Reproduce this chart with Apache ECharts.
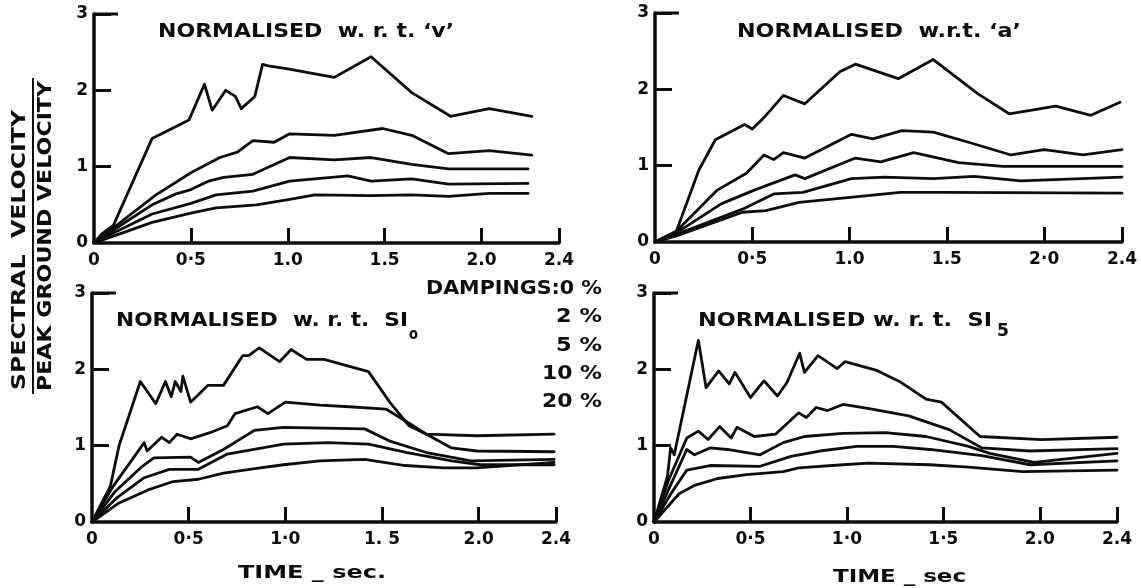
<!DOCTYPE html>
<html>
<head>
<meta charset="utf-8">
<script src="https://cdn.jsdelivr.net/npm/echarts@6/dist/echarts.min.js"></script>
<style>
  html, body { margin: 0; padding: 0; background: #fff; }
  #chart { width: 1141px; height: 588px; }
</style>
</head>
<body>
<div id="chart"></div>
<script>
// Damping ratios (percent) of the five curves in every panel
const dampings = ['0', '2', '5', '10', '20'];

// Axis ticks
const xTickValues = [0, 0.5, 1, 1.5, 2, 2.4];
const yTickValues = [0, 1, 2, 3];
const xTickLabelsV   = ['0', '0·5', '1.0', '1.5', '2.0', '2.4'];
const xTickLabelsA   = ['0', '0·5', '1.0', '1.5', '2·0', '2.4'];
const xTickLabelsSI0 = ['0', '0·5', '1·0', '1. 5', '2.0', '2.4'];
const xTickLabelsSI5 = ['0', '0·5', '1·0', '1·5', '2.0', '2.4'];
const yTickLabels = ['0', '1', '2', '3'];

// Normalised w.r.t. peak ground velocity 'v'  — [period (s), SV / PGV]
const v0  = [[0,0],[0.04,0.12],[0.10,0.23],[0.30,1.37],[0.49,1.61],[0.57,2.08],[0.61,1.74],[0.68,2.00],[0.73,1.92],[0.76,1.76],[0.83,1.92],[0.87,2.34],[0.90,2.32],[1.00,2.28],[1.24,2.17],[1.43,2.44],[1.64,1.97],[1.84,1.66],[2.04,1.76],[2.26,1.66]];
const v2  = [[0,0],[0.10,0.20],[0.32,0.63],[0.50,0.92],[0.65,1.12],[0.74,1.19],[0.82,1.34],[0.93,1.32],[1.01,1.43],[1.24,1.41],[1.49,1.50],[1.64,1.41],[1.83,1.17],[2.04,1.21],[2.26,1.15]];
const v5  = [[0,0],[0.10,0.17],[0.30,0.50],[0.42,0.64],[0.50,0.70],[0.59,0.81],[0.67,0.86],[0.82,0.90],[1.01,1.12],[1.24,1.09],[1.43,1.12],[1.64,1.03],[1.83,0.97],[2.24,0.97]];
const v10 = [[0,0],[0.10,0.13],[0.30,0.38],[0.50,0.52],[0.63,0.63],[0.82,0.68],[1.01,0.81],[1.31,0.88],[1.43,0.81],[1.64,0.84],[1.83,0.77],[2.24,0.78]];
const v20 = [[0,0],[0.10,0.09],[0.30,0.27],[0.50,0.39],[0.63,0.46],[0.84,0.50],[1.01,0.57],[1.14,0.63],[1.43,0.62],[1.64,0.63],[1.83,0.61],[2.04,0.65],[2.24,0.65]];

// Normalised w.r.t. peak ground acceleration 'a'
const a0  = [[0,0],[0.11,0.14],[0.225,0.94],[0.31,1.34],[0.46,1.54],[0.50,1.48],[0.56,1.63],[0.66,1.92],[0.77,1.81],[0.95,2.23],[1.03,2.33],[1.25,2.14],[1.43,2.39],[1.66,1.94],[1.82,1.68],[2.06,1.78],[2.24,1.66],[2.39,1.83]];
const a2  = [[0,0],[0.11,0.14],[0.32,0.68],[0.47,0.90],[0.56,1.14],[0.61,1.08],[0.66,1.17],[0.77,1.10],[1.01,1.41],[1.12,1.35],[1.27,1.46],[1.43,1.44],[1.62,1.30],[1.83,1.14],[2.00,1.21],[2.20,1.14],[2.40,1.21]];
const a5  = [[0,0],[0.11,0.12],[0.34,0.50],[0.51,0.68],[0.72,0.88],[0.77,0.83],[1.03,1.10],[1.16,1.05],[1.33,1.17],[1.56,1.04],[1.79,0.99],[2.40,0.99]];
const a10 = [[0,0],[0.11,0.10],[0.45,0.43],[0.61,0.63],[0.76,0.65],[1.01,0.83],[1.18,0.85],[1.43,0.83],[1.64,0.86],[1.88,0.80],[2.40,0.85]];
const a20 = [[0,0],[0.11,0.08],[0.45,0.39],[0.57,0.41],[0.74,0.52],[0.99,0.58],[1.26,0.65],[1.48,0.65],[2.40,0.64]];

// Normalised w.r.t. spectrum intensity SI0
const si0_0  = [[0,0],[0.095,0.47],[0.14,1.00],[0.25,1.84],[0.33,1.55],[0.38,1.84],[0.41,1.64],[0.43,1.84],[0.46,1.71],[0.47,1.91],[0.51,1.57],[0.60,1.79],[0.68,1.79],[0.78,2.18],[0.81,2.18],[0.865,2.28],[0.97,2.10],[1.03,2.26],[1.11,2.13],[1.20,2.13],[1.43,1.97],[1.54,1.57],[1.64,1.26],[1.73,1.15],[1.99,1.13],[2.39,1.15]];
const si0_2  = [[0,0],[0.11,0.47],[0.27,1.04],[0.285,0.93],[0.36,1.11],[0.40,1.04],[0.44,1.15],[0.51,1.09],[0.61,1.17],[0.70,1.26],[0.74,1.42],[0.855,1.51],[0.91,1.42],[1.00,1.57],[1.18,1.53],[1.33,1.51],[1.52,1.48],[1.63,1.31],[1.73,1.15],[1.86,0.97],[1.99,0.93],[2.39,0.92]];
const si0_5  = [[0,0],[0.12,0.40],[0.26,0.73],[0.32,0.84],[0.51,0.85],[0.55,0.78],[0.68,0.95],[0.84,1.20],[0.99,1.24],[1.41,1.22],[1.54,1.06],[1.73,0.91],[1.96,0.80],[2.39,0.82]];
const si0_10 = [[0,0],[0.13,0.32],[0.27,0.58],[0.40,0.69],[0.55,0.69],[0.70,0.89],[0.99,1.02],[1.22,1.04],[1.43,1.02],[1.63,0.91],[1.86,0.80],[2.01,0.75],[2.39,0.75]];
const si0_20 = [[0,0],[0.14,0.25],[0.29,0.42],[0.42,0.53],[0.55,0.56],[0.68,0.64],[0.87,0.71],[0.99,0.75],[1.18,0.80],[1.41,0.82],[1.62,0.74],[1.82,0.71],[1.99,0.71],[2.39,0.78]];

// Normalised w.r.t. spectrum intensity SI5
const si5_0  = [[0,0],[0.07,0.60],[0.086,0.97],[0.105,0.88],[0.23,2.38],[0.27,1.76],[0.335,1.98],[0.39,1.81],[0.42,1.96],[0.50,1.63],[0.57,1.85],[0.64,1.65],[0.69,1.83],[0.755,2.21],[0.78,1.96],[0.85,2.18],[0.95,2.01],[0.99,2.10],[1.15,1.99],[1.28,1.83],[1.41,1.61],[1.49,1.57],[1.69,1.12],[2.01,1.08],[2.40,1.11]];
const si5_2  = [[0,0],[0.076,0.55],[0.17,1.10],[0.23,1.19],[0.28,1.08],[0.34,1.25],[0.40,1.10],[0.43,1.24],[0.52,1.12],[0.63,1.15],[0.75,1.43],[0.79,1.37],[0.84,1.50],[0.90,1.46],[0.98,1.54],[1.13,1.48],[1.32,1.39],[1.53,1.21],[1.70,0.97],[1.95,0.93],[2.40,0.96]];
const si5_5  = [[0,0],[0.08,0.45],[0.17,0.95],[0.21,0.88],[0.29,0.97],[0.38,0.95],[0.55,0.88],[0.67,1.04],[0.78,1.12],[0.98,1.16],[1.20,1.17],[1.41,1.12],[1.63,0.99],[1.74,0.90],[1.97,0.78],[2.40,0.90]];
const si5_10 = [[0,0],[0.09,0.38],[0.17,0.68],[0.29,0.74],[0.55,0.73],[0.71,0.86],[0.86,0.93],[1.05,0.99],[1.24,0.99],[1.43,0.95],[1.70,0.87],[1.95,0.75],[2.40,0.80]];
const si5_20 = [[0,0],[0.13,0.37],[0.21,0.48],[0.33,0.57],[0.48,0.62],[0.67,0.66],[0.75,0.71],[0.98,0.75],[1.11,0.77],[1.43,0.75],[1.63,0.72],[1.91,0.66],[2.40,0.68]];

// Panel setup: plot rectangles, curves and tick labels
const panels = [
  { rect: [94, 14, 465, 229],  curves: [v0, v2, v5, v10, v20],                     xLabels: xTickLabelsV },
  { rect: [655, 13, 467, 229], curves: [a0, a2, a5, a10, a20],                     xLabels: xTickLabelsA },
  { rect: [92, 293, 464, 229], curves: [si0_0, si0_2, si0_5, si0_10, si0_20],      xLabels: xTickLabelsSI0 },
  { rect: [654, 293, 463, 229], curves: [si5_0, si5_2, si5_5, si5_10, si5_20],     xLabels: xTickLabelsSI5 }
];

const INK = '#0d0d0d';
const FONT = '"DejaVu Sans", "Liberation Sans", sans-serif';

const measureCtx = document.createElement('canvas').getContext('2d');
function textWidth(text, font) {
  measureCtx.font = font;
  return measureCtx.measureText(text).width;
}
// Text stretched horizontally to span a given width (lettering is wide-set)
function wideText(text, x, y, size, span, opts) {
  const font = 'bold ' + size + 'px ' + FONT;
  const sx = span / textWidth(text, font);
  const o = opts || {};
  return {
    type: 'text', x: x, y: y, scaleX: sx, rotation: o.rotation || 0, silent: true,
    style: {
      text: text, font: font, fill: INK,
      align: o.align || 'left', verticalAlign: 'middle',
      textAlign: o.align || 'left', textVerticalAlign: 'middle'
    }
  };
}

const grids = [], xAxes = [], yAxes = [], series = [];
panels.forEach(function (p, i) {
  grids.push({ left: p.rect[0], top: p.rect[1], width: p.rect[2], height: p.rect[3] });
  xAxes.push({
    gridIndex: i, type: 'value', min: 0, max: 2.4,
    splitLine: { show: false },
    axisLine: { show: true, lineStyle: { color: INK, width: 3.5 } },
    axisTick: { show: true, inside: true, length: 15, lineStyle: { color: INK, width: 3 },
                customValues: xTickValues.slice(1) },
    axisLabel: {
      customValues: xTickValues, margin: 9,
      color: INK, fontFamily: FONT, fontWeight: 'bold', fontSize: 17,
      formatter: function (val) { return p.xLabels[xTickValues.indexOf(val)]; }
    }
  });
  yAxes.push({
    gridIndex: i, type: 'value', min: 0, max: 3,
    splitLine: { show: false },
    axisLine: { show: true, lineStyle: { color: INK, width: 3.5 } },
    axisTick: { show: true, inside: true, length: 17, lineStyle: { color: INK, width: 3 },
                customValues: yTickValues.slice(1) },
    axisLabel: {
      customValues: yTickValues, margin: 6,
      color: INK, fontFamily: FONT, fontWeight: 'bold', fontSize: 17,
      formatter: function (val) { return yTickLabels[yTickValues.indexOf(val)]; }
    }
  });
  p.curves.forEach(function (data, d) {
    series.push({
      type: 'line', name: dampings[d] + ' %', xAxisIndex: i, yAxisIndex: i,
      data: data, showSymbol: false, symbol: 'none', smooth: false,
      lineStyle: { color: INK, width: 2.8, join: 'round', cap: 'round' },
      emphasis: { disabled: true }
    });
  });
});

const graphics = [
  // panel headings
  wideText('NORMALISED  w. r. t. ‘v’', 158, 32, 19, 296),
  wideText('NORMALISED  w.r.t. ‘a’', 737, 32, 19, 284),
  wideText('NORMALISED  w. r. t.  SI', 116, 321, 19, 292),
  wideText('o', 409, 335, 15, 9),
  wideText('NORMALISED w. r. t.  SI', 698, 321, 19, 294),
  wideText('5', 997, 332, 17, 12),
  // damping key
  wideText('DAMPINGS:0 %', 602, 289, 19, 176, { align: 'right' }),
  wideText('2 %', 602, 317, 19, 46, { align: 'right' }),
  wideText('5 %', 602, 346, 19, 46, { align: 'right' }),
  wideText('10 %', 602, 374, 19, 60, { align: 'right' }),
  wideText('20 %', 602, 402, 19, 60, { align: 'right' }),
  // time axis titles
  wideText('TIME _ sec.', 238, 573, 18, 148),
  wideText('TIME _ sec', 833, 577, 18, 133),
  // shared ordinate title, written as a fraction
  wideText('SPECTRAL  VELOCITY', 20, 250, 19, 280, { align: 'center', rotation: Math.PI / 2 }),
  wideText('PEAK GROUND VELOCITY', 46, 236, 19, 310, { align: 'center', rotation: Math.PI / 2 }),
  { type: 'line', silent: true, shape: { x1: 33, y1: 78, x2: 33, y2: 394 },
    style: { stroke: INK, lineWidth: 2 } }
];

const chart = echarts.init(document.getElementById('chart'), null, { renderer: 'canvas' });
chart.setOption({
  animation: false,
  backgroundColor: '#ffffff',
  grid: grids,
  xAxis: xAxes,
  yAxis: yAxes,
  series: series,
  graphic: graphics
});

// the tick closing the top of each ordinate is drawn longer than the others
panels.forEach(function (p, i) {
  const top = chart.convertToPixel({ gridIndex: i }, [0, yTickValues[yTickValues.length - 1]]);
  graphics.push({
    type: 'line', silent: true,
    shape: { x1: top[0], y1: top[1], x2: top[0] + 24, y2: top[1] },
    style: { stroke: INK, lineWidth: 3 }
  });
});
chart.setOption({ graphic: graphics });
</script>
</body>
</html>
